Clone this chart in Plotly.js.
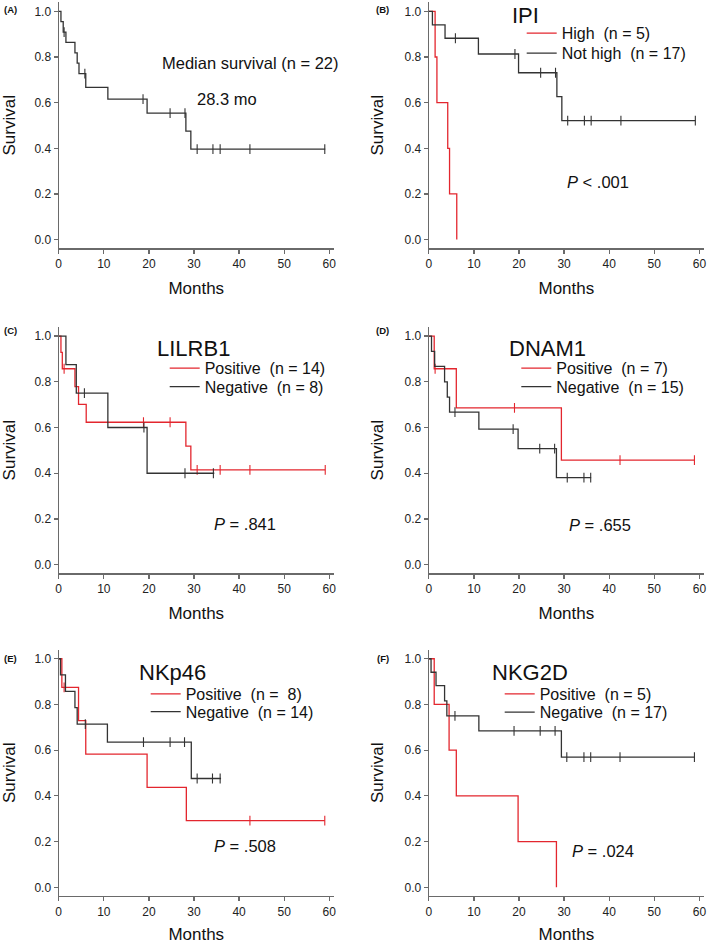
<!DOCTYPE html>
<html>
<head>
<meta charset="utf-8">
<script src="https://cdn.plot.ly/plotly-3.0.1.min.js"></script>
<style>
  html, body { margin: 0; padding: 0; background: #fff; }
  #km { width: 709px; height: 944px; }
</style>
</head>
<body>
<div id="km"></div>
<script>
// Kaplan-Meier step curves: times (months), survival, censor times

// (A) all patients
let allT = [0, 0.5, 1.0, 1.6, 3.6, 4.1, 4.5, 6.0, 10.9, 19.6, 28.2, 29.3, 59.1]
let allS = [1, 0.955, 0.909, 0.864, 0.818, 0.773, 0.727, 0.667, 0.615, 0.554, 0.475, 0.396, 0.396]
let allCens = [1.2, 5.8, 18.7, 24.7, 28.0, 30.7, 34.2, 35.8, 42.4, 59.0]

// (B) IPI
let ipiHighT = [0, 1.4, 1.8, 4.2, 4.6, 6.2]
let ipiHighS = [1, 0.8, 0.6, 0.4, 0.2, 0]
let ipiHighCens = []
let ipiNotT = [0, 0.8, 3.6, 11.0, 19.9, 28.4, 29.5, 59.1]
let ipiNotS = [1, 0.941, 0.882, 0.813, 0.731, 0.626, 0.521, 0.521]
let ipiNotCens = [5.9, 19.1, 24.8, 28.1, 30.8, 34.5, 36.0, 42.6, 59.1]

// (C) LILRB1
let lilPosT = [0, 0.5, 0.8, 3.6, 4.4, 6.1, 28.2, 29.3, 59.1]
let lilPosS = [1, 0.929, 0.857, 0.779, 0.701, 0.623, 0.519, 0.415, 0.415]
let lilPosCens = [1.2, 18.8, 24.7, 30.7, 35.8, 42.4, 59.1]
let lilNegT = [0, 1.6, 3.9, 10.9, 19.6, 34.5]
let lilNegS = [1, 0.875, 0.75, 0.6, 0.4, 0.4]
let lilNegCens = [5.7, 18.9, 28.0, 34.3]

// (D) DNAM1
let dnaPosT = [0, 1.2, 6.1, 29.4, 58.9]
let dnaPosS = [1, 0.857, 0.686, 0.457, 0.457]
let dnaPosCens = [1.4, 19.0, 42.4, 58.9]
let dnaNegT = [0, 0.6, 1.3, 3.5, 4.1, 4.6, 11.1, 19.8, 28.3, 36.0]
let dnaNegS = [1, 0.933, 0.867, 0.8, 0.733, 0.667, 0.593, 0.508, 0.381, 0.381]
let dnaNegCens = [5.8, 18.7, 24.6, 27.9, 30.7, 34.4, 35.9]

// (E) NKp46
let nkpPosT = [0, 0.7, 4.4, 6.0, 19.6, 28.3, 59.0]
let nkpPosS = [1, 0.875, 0.729, 0.583, 0.437, 0.292, 0.292]
let nkpPosCens = [1.2, 42.4, 59.0]
let nkpNegT = [0, 0.4, 1.5, 3.6, 4.1, 10.8, 29.4, 36.0]
let nkpNegS = [1, 0.929, 0.857, 0.786, 0.714, 0.635, 0.476, 0.476]
let nkpNegCens = [5.9, 18.8, 24.7, 27.9, 30.7, 34.1, 35.8]

// (F) NKG2D
let nkgPosT = [0, 1.2, 4.5, 6.1, 19.8, 28.3]
let nkgPosS = [1, 0.8, 0.6, 0.4, 0.2, 0]
let nkgPosCens = []
let nkgNegT = [0, 0.5, 1.6, 3.5, 4.0, 11.1, 29.4, 58.9]
let nkgNegS = [1, 0.941, 0.882, 0.816, 0.75, 0.684, 0.57, 0.57]
let nkgNegCens = [5.8, 18.9, 24.7, 28.0, 30.6, 34.4, 35.9, 42.4, 58.9]

let monthTicks = [0, 10, 20, 30, 40, 50, 60]
let survTicks = [0, 0.2, 0.4, 0.6, 0.8, 1.0]

let red = '#e3262e'
let black = '#333333'
let axisGrey = '#6a6a6a'
let fontFam = 'Liberation Sans, Arial, Helvetica, sans-serif'

const W = 709, H = 944
// pixel -> paper helpers
let px = v => v / W
let py = v => 1 - v / H

// value of step curve at time t
function stepAt(T, S, t) {
    let v = S[0]
    T.forEach((ti, i) => { if (ti <= t) v = S[i] })
    return v
}

let traces = []

function addCurve(T, S, cens, color, name, xa, ya, legendId) {
    traces.push({
        x: T, y: S,
        type: 'scatter', mode: 'lines',
        line: { shape: 'hv', color: color, width: 1.3 },
        name: name,
        showlegend: !!name,
        legend: legendId,
        xaxis: xa, yaxis: ya,
        hoverinfo: 'x+y'
    })
    if (cens.length) {
        traces.push({
            x: cens, y: cens.map(t => stepAt(T, S, t)),
            type: 'scatter', mode: 'markers',
            marker: { symbol: 'line-ns-open', size: 7, color: color, line: { color: color, width: 1.1 } },
            showlegend: false,
            xaxis: xa, yaxis: ya,
            hoverinfo: 'x+y'
        })
    }
}

let nb = '\u00a0'
addCurve(allT, allS, allCens, black, null, 'x', 'y')
addCurve(ipiHighT, ipiHighS, ipiHighCens, red, 'High' + nb + nb + '(n = 5)', 'x2', 'y2', 'legend')
addCurve(ipiNotT, ipiNotS, ipiNotCens, black, 'Not high' + nb + nb + '(n = 17)', 'x2', 'y2', 'legend2')
addCurve(lilPosT, lilPosS, lilPosCens, red, 'Positive' + nb + nb + '(n = 14)', 'x3', 'y3', 'legend3')
addCurve(lilNegT, lilNegS, lilNegCens, black, 'Negative' + nb + nb + '(n = 8)', 'x3', 'y3', 'legend4')
addCurve(dnaPosT, dnaPosS, dnaPosCens, red, 'Positive' + nb + nb + '(n = 7)', 'x4', 'y4', 'legend5')
addCurve(dnaNegT, dnaNegS, dnaNegCens, black, 'Negative' + nb + nb + '(n = 15)', 'x4', 'y4', 'legend6')
addCurve(nkpPosT, nkpPosS, nkpPosCens, red, 'Positive' + nb + nb + '(n =' + nb + nb + '8)', 'x5', 'y5', 'legend7')
addCurve(nkpNegT, nkpNegS, nkpNegCens, black, 'Negative' + nb + nb + '(n = 14)', 'x5', 'y5', 'legend8')
addCurve(nkgPosT, nkgPosS, nkgPosCens, red, 'Positive' + nb + nb + '(n = 5)', 'x6', 'y6', 'legend9')
addCurve(nkgNegT, nkgNegS, nkgNegCens, black, 'Negative' + nb + nb + '(n = 17)', 'x6', 'y6', 'legend10')

// panel boxes in pixels: [left, right, top, bottom]
let colL = [58.7, 333.8], colR = [428.8, 703.9]
let rows = [[2.2, 248.3], [326.9, 573.4], [649.6, 896]]

let layout = {
    width: W, height: H,
    margin: { t: 0, b: 0, l: 0, r: 0 },
    paper_bgcolor: '#fff', plot_bgcolor: '#fff',
    font: { family: fontFam, color: '#1a1a1a', size: 12 },
    annotations: [],
    hovermode: 'closest'
}

let axisBase = {
    showline: true, linecolor: axisGrey, linewidth: 1.2,
    ticks: 'outside', ticklen: 4, tickcolor: axisGrey, tickwidth: 1.2,
    showgrid: false, zeroline: false, fixedrange: true,
    tickfont: { size: 12, color: '#222' }
}

for (let i = 0; i < 6; i++) {
    let col = i % 2 == 0 ? colL : colR
    let row = rows[Math.floor(i / 2)]
    let sfx = i == 0 ? '' : String(i + 1)
    layout['xaxis' + sfx] = {
        ...axisBase,
        domain: [px(col[0]), px(col[1])],
        anchor: 'y' + sfx,
        range: [0, 61],
        tickvals: monthTicks,
        title: { text: 'Months', font: { size: 17, color: '#111' }, standoff: 12 }
    }
    layout['yaxis' + sfx] = {
        ...axisBase,
        domain: [py(row[1]), py(row[0])],
        anchor: 'x' + sfx,
        range: [-0.038, 1.04],
        tickvals: survTicks,
        tickformat: '.1f',
        title: { text: 'Survival', font: { size: 17, color: '#111' }, standoff: 16 }
    }
}

// one legend per entry so each row sits where it does in the figure: [line start x, row centre y]
let legendRows = [[522.7, 34.3], [522.7, 54.3], [165.7, 369.3], [165.7, 387.7], [517.3, 369.3],
                  [517.3, 387.7], [146.7, 695], [146.7, 712.7], [500.7, 695], [500.7, 713.3]]
legendRows.forEach((p, i) => {
    let key = i == 0 ? 'legend' : 'legend' + (i + 1)
    layout[key] = {
        x: px(p[0] - 1), y: py(p[1] - 18), xanchor: 'left', yanchor: 'top',
        bgcolor: 'rgba(0,0,0,0)', borderwidth: 0,
        font: { size: 16, color: '#111', family: fontFam },
        itemwidth: 30
    }
})

function note(text, x, y, size, opts) {
    layout.annotations.push({
        text: text, x: px(x), y: py(y), xref: 'paper', yref: 'paper',
        showarrow: false, xanchor: 'center', yanchor: 'middle',
        font: { size: size, color: '#111', family: fontFam }, ...(opts || {})
    })
}

// panel letters
let letters = [['(A)', 10.5, 9], ['(B)', 382, 9], ['(C)', 10.5, 330], ['(D)', 382.5, 330], ['(E)', 10.5, 658], ['(F)', 383, 658]]
letters.forEach(l => note('<b>' + l[0] + '</b>', l[1], l[2], 9.5))

// panel titles
note('IPI', 525, 15, 22)
note('LILRB1', 193, 348, 22)
note('DNAM1', 547, 348, 22)
note('NKp46', 172, 672, 22)
note('NKG2D', 530, 672, 22)

// statistics
note('Median survival (n = 22)', 250.5, 63, 16.5)
note('28.3 mo', 227, 99, 16.5)
note('<i>P</i> &lt; .001', 598, 182, 16.5)
note('<i>P</i> = .841', 244.5, 524, 16.5)
note('<i>P</i> = .655', 600, 525, 16.5)
note('<i>P</i> = .508', 245, 846, 16.5)
note('<i>P</i> = .024', 602.5, 851, 16.5)

Plotly.newPlot('km', traces, layout, { staticPlot: true, responsive: false })
</script>
</body>
</html>
